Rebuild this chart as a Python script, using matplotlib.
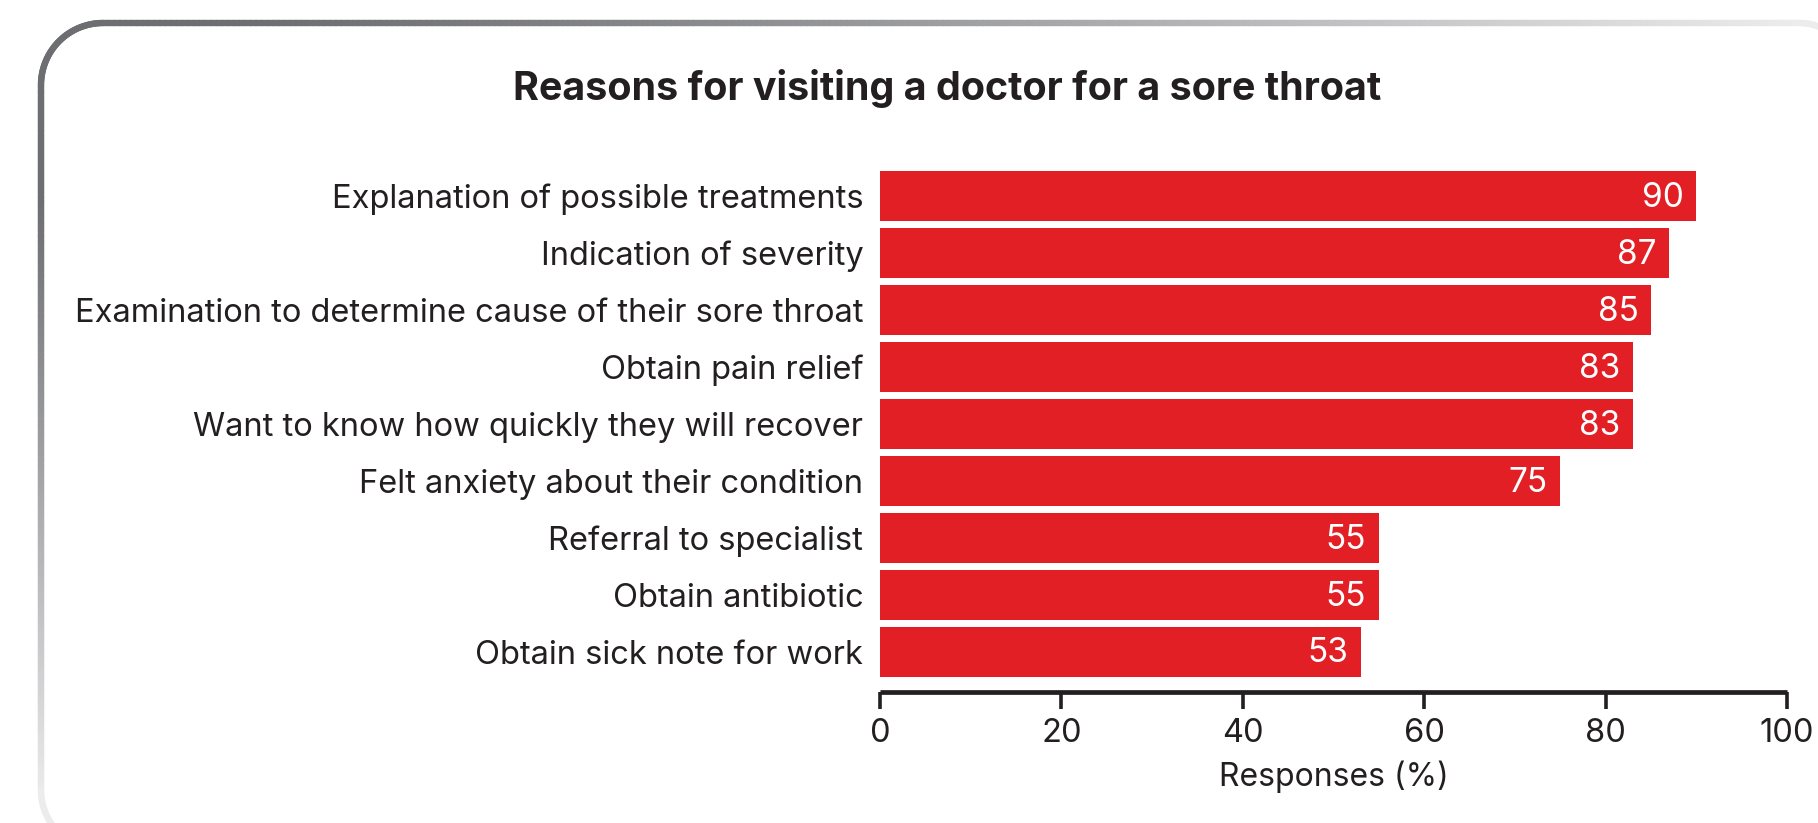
import numpy as np
import matplotlib.pyplot as plt
from matplotlib.collections import LineCollection
from matplotlib.colors import to_rgb

reasons = [
    'Explanation of possible treatments',
    'Indication of severity',
    'Examination to determine cause of their sore throat',
    'Obtain pain relief',
    'Want to know how quickly they will recover',
    'Felt anxiety about their condition',
    'Referral to specialist',
    'Obtain antibiotic',
    'Obtain sick note for work',
]
responses = [90, 87, 85, 83, 83, 75, 55, 55, 53]
xticks = [0, 20, 40, 60, 80, 100]

RED = '#e31f26'
INK = '#231f20'
W, H = 1818, 823

plt.rcParams['font.family'] = ['Inter', 'DejaVu Sans']

fig = plt.figure(figsize=(W / 100, H / 100), dpi=100)
fig.patch.set_facecolor('white')

# rounded frame with a grey fade, drawn in pixel coordinates
frame = fig.add_axes([0, 0, 1, 1], zorder=-1)
frame.set_xlim(0, W)
frame.set_ylim(H, 0)
frame.axis('off')

left, top, r = 41, 23, 62
theta = np.linspace(np.pi, 1.5 * np.pi, 60)
arc = np.column_stack([left + r + r * np.cos(theta), top + r + r * np.sin(theta)])
top_edge = np.column_stack([np.linspace(left + r, 1800, 300), np.full(300, top)])
top_arc_t = np.linspace(1.5 * np.pi, 1.8 * np.pi, 20)
top_arc = np.column_stack([1800 + 50 * np.cos(top_arc_t), top + 50 + 50 * np.sin(top_arc_t)])
left_edge = np.column_stack([np.full(300, left), np.linspace(top + r, 790, 300)])
bot_t = np.linspace(np.pi, 0.72 * np.pi, 20)
bot_arc = np.column_stack([left + 60 + 60 * np.cos(bot_t), 790 + 60 * np.sin(bot_t)])

dark = np.array(to_rgb('#6d6e71'))
light = np.array(to_rgb('#ececed'))

def fade(pts, s):
    seg = np.stack([pts[:-1], pts[1:]], axis=1)
    s = np.clip((s[:-1] + s[1:]) / 2, 0, 1)
    cols = dark[None, :] * (1 - s[:, None]) + light[None, :] * s[:, None]
    return seg, cols

s_top = np.clip((top_edge[:, 0] - 250) / 1550, 0, 1) ** 1.2
s_left = np.clip((left_edge[:, 1] - 200) / 600, 0, 1) ** 1.1
pieces = [
    fade(arc, np.zeros(len(arc))),
    fade(top_edge, s_top),
    fade(top_arc, np.ones(len(top_arc))),
    fade(left_edge, s_left),
    fade(bot_arc, np.ones(len(bot_arc))),
]
for seg, cols in pieces:
    frame.add_collection(LineCollection(seg, colors=cols, linewidths=4.6,
                                        capstyle='round'))

# bar chart
ax = fig.add_axes([880 / W, 1 - 692 / H, 907 / W, 530 / H])
y = np.arange(len(reasons))
bars = ax.barh(y, responses, height=0.876, color=RED)
for rect, v in zip(bars, responses):
    ax.annotate(str(v), (rect.get_width(), rect.get_y() + rect.get_height() / 2),
                xytext=(-9, -1), textcoords='offset points', ha='right',
                va='center', color='white', fontsize=24)

ax.set_xlim(0, 100)
ax.set_ylim(len(reasons) - 0.3, -0.6)
ax.set_yticks(y)
ax.set_yticklabels(reasons, fontsize=23.5, color=INK)
ax.set_xticks(xticks)
ax.set_xticklabels([str(t) for t in xticks], fontsize=23.5, color=INK)
ax.tick_params(axis='y', length=0, pad=12)
ax.tick_params(axis='x', length=12, width=2.6, color=INK, pad=7, direction='out')
for side in ['left', 'right', 'top']:
    ax.spines[side].set_visible(False)
ax.spines['bottom'].set_linewidth(3.4)
ax.spines['bottom'].set_color(INK)
ax.spines['bottom'].set_capstyle('butt')
ax.set_xlabel('Responses (%)', fontsize=23, color=INK, labelpad=8)

fig.text(947 / W, 1 - 89 / H, 'Reasons for visiting a doctor for a sore throat',
         ha='center', va='center', fontsize=28.4, fontweight='bold', color=INK)

fig.savefig('out.png', dpi=100)
